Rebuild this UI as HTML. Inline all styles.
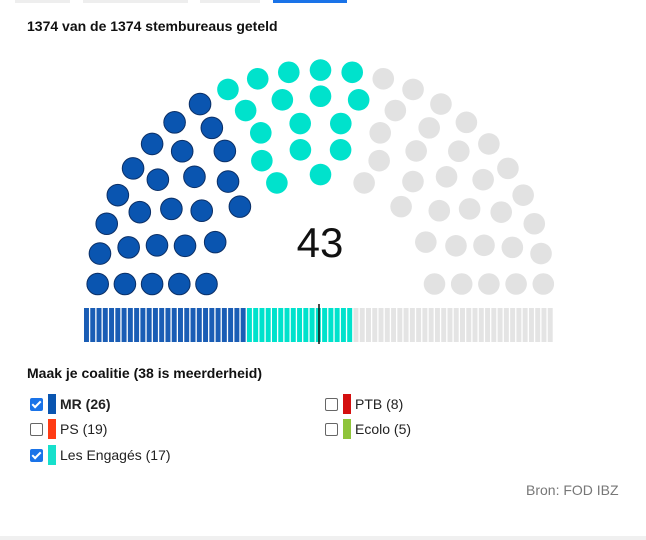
<!DOCTYPE html>
<html><head><meta charset="utf-8"><style>
body{margin:0;width:646px;height:540px;background:#fff;font-family:"Liberation Sans",sans-serif;position:relative;overflow:hidden}
.abs{position:absolute}
.tab{position:absolute;top:0;height:3px;background:#eee}
.leg{position:absolute;font-size:14px;color:#222;height:20px;line-height:20px}
.cb{position:absolute;width:11px;height:11px;border:1px solid #666;border-radius:2px;top:4px;left:0;background:#fff}
.cb.on{background:#1a73e8;border-color:#1a73e8}
.cb.on::after{content:"";position:absolute;left:3px;top:0px;width:3px;height:7px;border:solid #fff;border-width:0 2px 2px 0;transform:rotate(45deg)}
.sw{position:absolute;left:18px;top:0;width:8px;height:20px}
.lt{position:absolute;left:30px;top:0;white-space:nowrap}
</style></head><body>
<div class="tab" style="left:15px;width:55px"></div>
<div class="tab" style="left:83px;width:105px"></div>
<div class="tab" style="left:200px;width:60px"></div>
<div class="tab" style="left:273px;width:74px;background:#1a73e8"></div>
<div class="abs" style="left:27px;top:18px;font-size:14px;font-weight:bold;color:#111">1374 van de 1374 stembureaus geteld</div>
<svg class="abs" style="left:0;top:0" width="646" height="350" id="chart"></svg>
<div class="abs" style="left:27px;top:365px;font-size:14px;font-weight:bold;color:#111">Maak je coalitie (38 is meerderheid)</div>
<div class="leg" style="left:30px;top:394px"><span class="cb on"></span><span class="sw" style="background:#0a55b0"></span><span class="lt" style="font-weight:bold">MR (26)</span></div>
<div class="leg" style="left:30px;top:419px"><span class="cb"></span><span class="sw" style="background:#ff3b14"></span><span class="lt">PS (19)</span></div>
<div class="leg" style="left:30px;top:445px"><span class="cb on"></span><span class="sw" style="background:#17e0cc"></span><span class="lt">Les Engagés (17)</span></div>
<div class="leg" style="left:325px;top:394px"><span class="cb"></span><span class="sw" style="background:#d40f0f"></span><span class="lt">PTB (8)</span></div>
<div class="leg" style="left:325px;top:419px"><span class="cb"></span><span class="sw" style="background:#8fc43a"></span><span class="lt">Ecolo (5)</span></div>
<div class="abs" style="left:526px;top:482px;font-size:14px;color:#777">Bron: FOD IBZ</div>
<div class="abs" style="left:0;top:536px;width:646px;height:4px;background:#f0f0f0"></div>
<script>
const parties=["MR","Les Engagés","PS","PTB","Ecolo"];
const seats=[26,17,19,8,5];
const selected=[true,true,false,false,false];
const colors=["#0a55b0","#00e2cc","#ff3b14","#d40f0f","#8fc43a"];
const majority=38;
const svg=document.getElementById('chart');
const NS="http://www.w3.org/2000/svg";
const cx=320.5,cy=284,rIn=114,rStep=27.2,ys=0.96,dotR=10.8;
const rowCounts=[9,12,14,17,23];
const total=seats.reduce((a,b)=>a+b,0);
let pos=[];
rowCounts.forEach((n,i)=>{const r=rIn+i*rStep;for(let j=0;j<n;j++){const a=Math.PI*(1-j/(n-1));pos.push({a,r,x:cx+r*Math.cos(a),y:cy-r*ys*Math.sin(a)});}});
pos.sort((p,q)=>(q.a-p.a)||(p.r-q.r));
let order=[];parties.forEach((p,i)=>{if(selected[i])order.push(i)});parties.forEach((p,i)=>{if(!selected[i])order.push(i)});
let seatParty=[];order.forEach(i=>{for(let k=0;k<seats[i];k++)seatParty.push(i)});
let sel=0;parties.forEach((p,i)=>{if(selected[i])sel+=seats[i]});
pos.forEach((p,k)=>{const pi=seatParty[k];if(pi===undefined)return;const c=document.createElementNS(NS,'circle');
c.setAttribute('cx',p.x);c.setAttribute('cy',p.y);c.setAttribute('r',dotR);
const on=selected[pi];c.setAttribute('fill',on?colors[pi]:'#e2e2e2');
if(pi===0){c.setAttribute('stroke','#0b2f66');c.setAttribute('stroke-width','1');}

svg.appendChild(c);});
const t=document.createElementNS(NS,'text');t.setAttribute('x',320);t.setAttribute('y',257);t.setAttribute('text-anchor','middle');
t.setAttribute('font-size','42');t.setAttribute('font-family','Liberation Sans, sans-serif');t.setAttribute('fill','#111');t.textContent=sel;

svg.appendChild(t);
const bx=84,bw=470,by=308,bh=34,sw=bw/total;
seatParty.forEach((pi,k)=>{const r=document.createElementNS(NS,'rect');r.setAttribute('x',bx+k*sw);r.setAttribute('y',by);
r.setAttribute('width',sw-1.3);r.setAttribute('height',bh);r.setAttribute('fill',selected[pi]?(pi===0?'#1a5db5':colors[pi]):'#e4e4e4');

svg.appendChild(r);});
const l=document.createElementNS(NS,'line');const mx=bx+(majority-0.5)*sw;
l.setAttribute('x1',mx);l.setAttribute('x2',mx);l.setAttribute('y1',by-4);l.setAttribute('y2',by+bh+2);l.setAttribute('stroke','#111');l.setAttribute('stroke-width','1.5');

svg.appendChild(l);
</script>
</body></html>
